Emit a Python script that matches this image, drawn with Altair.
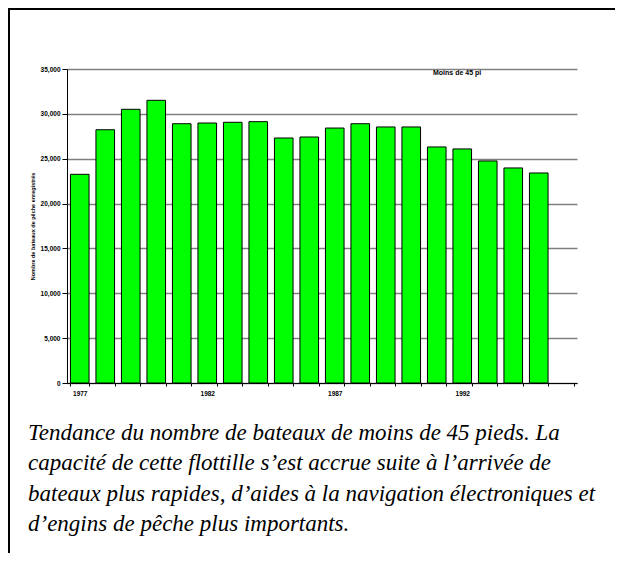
import altair as alt
import pandas as pd

years = list(range(1977, 1996))
boats = [23260, 28230, 30510, 31510, 28900, 28980, 29060, 29130, 27310, 27420,
         28420, 28900, 28540, 28540, 26310, 26090, 24750, 23970, 23410]
year_slots = list(range(1977, 1997))
y_ticks = [0, 5000, 10000, 15000, 20000, 25000, 30000, 35000]
y_title = "Nombre de bateaux de pêche enregistrés"
series_label = "Moins de 45 pi"
caption = [
    "Tendance du nombre de bateaux de moins de 45 pieds. La",
    "capacité de cette flottille s\u2019est accrue suite à l\u2019arrivée de",
    "bateaux plus rapides, d\u2019aides à la navigation électroniques et",
    "d\u2019engins de pêche plus importants.",
]

df = pd.DataFrame({"year": years, "boats": boats})

W, H = 510, 314
PL, PT = 59, 61
CW, CH = 607, 545
SERIF = "'Liberation Serif', 'Times New Roman', 'DejaVu Serif', serif"

bars = alt.Chart(df).mark_bar(
    color="#00ff00", stroke="#000000", strokeWidth=1
).encode(
    x=alt.X("year:O", scale=alt.Scale(domain=year_slots, paddingInner=0.27, paddingOuter=0.135),
            axis=alt.Axis(title=None, labelAngle=0, tickBand="extent",
                          labelExpr="datum.value % 5 == 2 ? datum.label : ''",
                          labelFont="Liberation Sans", labelFontSize=6.5, labelFontWeight="bold",
                          labelColor="#000000", labelPadding=4,
                          domainColor="#000000", tickColor="#000000", tickSize=3,
                          domainWidth=1, tickWidth=1, grid=False)),
    y=alt.Y("boats:Q", scale=alt.Scale(domain=[0, 35000], nice=False),
            axis=alt.Axis(title=y_title, values=y_ticks,
                          labelExpr="format(datum.value, ',.0f')",
                          titleFont="Liberation Sans", titleFontSize=5.5, titleFontWeight="bold",
                          titleColor="#000000", titlePadding=5,
                          labelFont="Liberation Sans", labelFontSize=6.5, labelFontWeight="bold",
                          labelColor="#000000", labelPadding=2,
                          domainColor="#000000", tickColor="#000000", tickSize=5,
                          grid=True, gridColor="#808080", gridWidth=1.6)),
)

label = alt.Chart(pd.DataFrame({"t": [series_label]})).mark_text(
    font="Liberation Sans", fontSize=7, fontWeight="bold", align="left",
    baseline="middle", color="#000000"
).encode(x=alt.value(366), y=alt.value(4), text="t:N")

cap = alt.Chart(pd.DataFrame({"t": [0]})).mark_text(
    font=SERIF, fontSize=23, fontStyle="italic", align="left",
    baseline="alphabetic", lineHeight=30.3, color="#000000"
).encode(x=alt.value(28 - 8 - PL), y=alt.value(440 - 8 - PT), text=alt.value(caption))

border_top = alt.Chart(pd.DataFrame({"t": [0]})).mark_rule(
    color="#000000", strokeWidth=3
).encode(x=alt.value(-PL), x2=alt.value(CW - PL), y=alt.value(-PT + 0.5))

border_left = alt.Chart(pd.DataFrame({"t": [0]})).mark_rule(
    color="#000000", strokeWidth=3
).encode(x=alt.value(-PL + 0.5), y=alt.value(-PT), y2=alt.value(CH - PT))

chart = alt.layer(bars, label, cap, border_top, border_left).properties(
    width=W, height=H,
    padding={"left": PL, "top": PT, "right": CW - PL - W, "bottom": CH - PT - H},
    autosize=alt.AutoSizeParams(type="none"),
    background="#ffffff",
).configure_view(strokeWidth=0)

chart.save("out.html", embed_options={"renderer": "svg", "actions": False})
